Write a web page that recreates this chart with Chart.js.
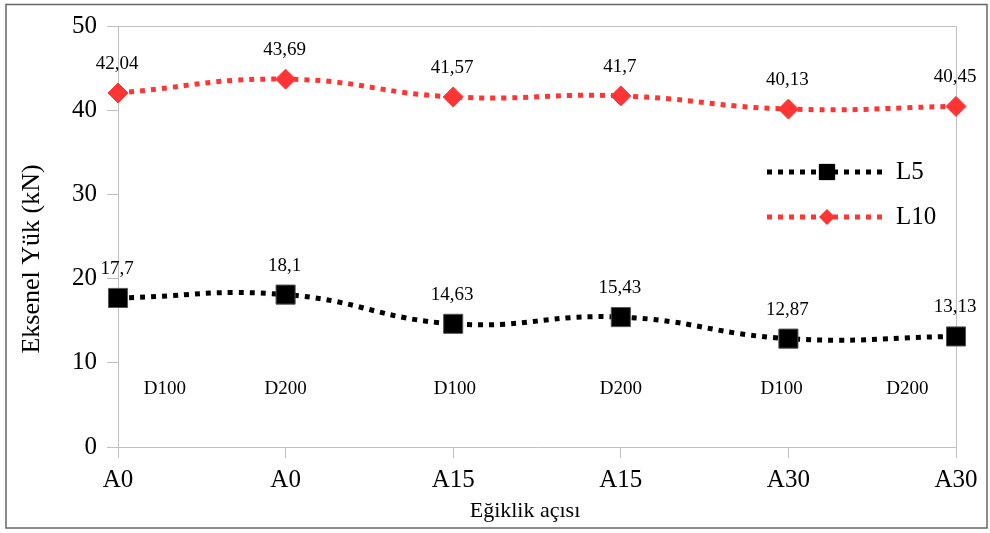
<!DOCTYPE html>
<html>
<head>
<meta charset="utf-8">
<script src="https://cdn.jsdelivr.net/npm/chart.js@4/dist/chart.umd.min.js"></script>
<style>
  html, body { margin: 0; padding: 0; background: #fff; }
  #wrap { width: 990px; height: 533px; }
</style>
</head>
<body>
<div id="wrap"><canvas id="chart" width="990" height="533"></canvas></div>
<script>
const categories = ['A0', 'A0', 'A15', 'A15', 'A30', 'A30'];
const l5Values = [17.7, 18.1, 14.63, 15.43, 12.87, 13.13];
const l10Values = [42.04, 43.69, 41.57, 41.7, 40.13, 40.45];
const seriesNames = ['L5', 'L10'];
const yTicks = [0, 10, 20, 30, 40, 50];

// the D100 / D200 notes written inside the plot
const diaLabels = ['D100', 'D200', 'D100', 'D200', 'D100', 'D200'];
const diaPos = [0.28, 1, 2.01, 3, 3.96, 4.71];
const diaY = 6.9;

const SERIF = '"Liberation Serif", "Times New Roman", serif';
const RED = '#ff3535';

const fmt = v => String(v).replace('.', ',');

// value labels above each marker
const valueLabels = {
  id: 'valueLabels',
  afterDatasetsDraw(chart) {
    const ctx = chart.ctx;
    ctx.save();
    ctx.font = '19px ' + SERIF;
    ctx.fillStyle = '#000';
    ctx.textAlign = 'center';
    ctx.textBaseline = 'middle';
    chart.data.datasets.forEach((ds, i) => {
      chart.getDatasetMeta(i).data.forEach((pt, j) => {
        ctx.fillText(fmt(ds.data[j]), pt.x - 1, pt.y - 29);
      });
    });
    const x = chart.scales.x, y = chart.scales.y;
    diaLabels.forEach((t, k) => {
      ctx.fillText(t, x.getPixelForValue(diaPos[k]), y.getPixelForValue(diaY));
    });
    ctx.restore();
  }
};

// frame, plot box, axis titles and legend like the Excel original
const decor = {
  id: 'decor',
  beforeDatasetsDraw(chart) {
    const { ctx, chartArea: a } = chart;
    ctx.save();
    ctx.strokeStyle = '#bfbfbf';
    ctx.lineWidth = 1;
    ctx.beginPath();
    ctx.moveTo(Math.round(a.left) + 0.5, Math.round(a.top) + 0.5);
    ctx.lineTo(Math.round(a.right) + 0.5, Math.round(a.top) + 0.5);
    ctx.lineTo(Math.round(a.right) + 0.5, Math.round(a.bottom) + 0.5);
    ctx.stroke();
    ctx.restore();
  },
  afterDraw(chart) {
    const ctx = chart.ctx;
    ctx.save();
    ctx.strokeStyle = '#666';
    ctx.lineWidth = 1.5;
    ctx.strokeRect(6, 4.5, 981, 523.5);

    ctx.fillStyle = '#000';
    ctx.textAlign = 'center';
    ctx.textBaseline = 'middle';
    ctx.font = '22px ' + SERIF;
    ctx.fillText('Eğiklik açısı', 525, 511);

    ctx.translate(32, 259);
    ctx.rotate(-Math.PI / 2);
    ctx.font = '26px ' + SERIF;
    ctx.fillText('Eksenel Yük (kN)', 0, 0);
    ctx.restore();

    // legend
    const rows = [172, 217];
    chart.data.datasets.forEach((ds, i) => {
      const yy = rows[i];
      ctx.save();
      ctx.strokeStyle = ds.borderColor;
      ctx.lineWidth = ds.borderWidth;
      ctx.setLineDash(ds.borderDash);
      ctx.beginPath();
      ctx.moveTo(767, yy);
      ctx.lineTo(883, yy);
      ctx.stroke();
      ctx.setLineDash([]);
      ctx.fillStyle = ds.pointBackgroundColor;
      Chart.helpers.drawPoint(ctx, {
        pointStyle: ds.pointStyle,
        radius: ds.pointStyle === 'rect' ? 11.5 : 8,
        rotation: 0,
        borderWidth: 0
      }, 827, yy);
      ctx.fillStyle = '#000';
      ctx.font = '25px ' + SERIF;
      ctx.textAlign = 'left';
      ctx.textBaseline = 'middle';
      ctx.fillText(ds.label, 896, yy);
      ctx.restore();
    });
  }
};

new Chart(document.getElementById('chart'), {
  type: 'line',
  data: {
    labels: categories,
    datasets: [
      {
        label: seriesNames[0],
        data: l5Values,
        borderColor: '#000',
        backgroundColor: '#000',
        borderWidth: 5,
        borderDash: [5, 6],
        borderCapStyle: 'butt',
        tension: 0.45,
        pointStyle: 'rect',
        pointRadius: 13.5,
        pointHoverRadius: 13.5,
        pointBackgroundColor: '#000',
        pointBorderColor: '#555',
        pointBorderWidth: 1
      },
      {
        label: seriesNames[1],
        data: l10Values,
        borderColor: RED,
        backgroundColor: RED,
        borderWidth: 5,
        borderDash: [5, 6],
        borderCapStyle: 'butt',
        tension: 0.45,
        pointStyle: 'rectRot',
        pointRadius: 10,
        pointHoverRadius: 10,
        pointBackgroundColor: RED,
        pointBorderColor: RED,
        pointBorderWidth: 1
      }
    ]
  },
  options: {
    responsive: false,
    animation: false,
    events: [],
    layout: { padding: { top: 26, right: 34, left: 0, bottom: 0 } },
    plugins: { legend: { display: false }, tooltip: { enabled: false } },
    scales: {
      x: {
        offset: false,
        afterFit(s) { s.height = 86; },
        grid: { display: true, drawOnChartArea: false, drawTicks: true, tickLength: 11, color: '#bfbfbf' },
        border: { display: true, color: '#bfbfbf', width: 1 },
        ticks: { color: '#000', font: { family: SERIF, size: 25 }, padding: 7, maxRotation: 0, autoSkip: false }
      },
      y: {
        min: 0,
        max: 50,
        afterFit(s) { s.width = 118; },
        afterBuildTicks(s) { s.ticks = yTicks.map(v => ({ value: v })); },
        grid: { display: true, drawOnChartArea: false, drawTicks: true, tickLength: 11, color: '#bfbfbf' },
        border: { display: true, color: '#bfbfbf', width: 1 },
        ticks: { color: '#000', font: { family: SERIF, size: 25 }, padding: 10 }
      }
    }
  },
  plugins: [decor, valueLabels]
});
</script>
</body>
</html>
